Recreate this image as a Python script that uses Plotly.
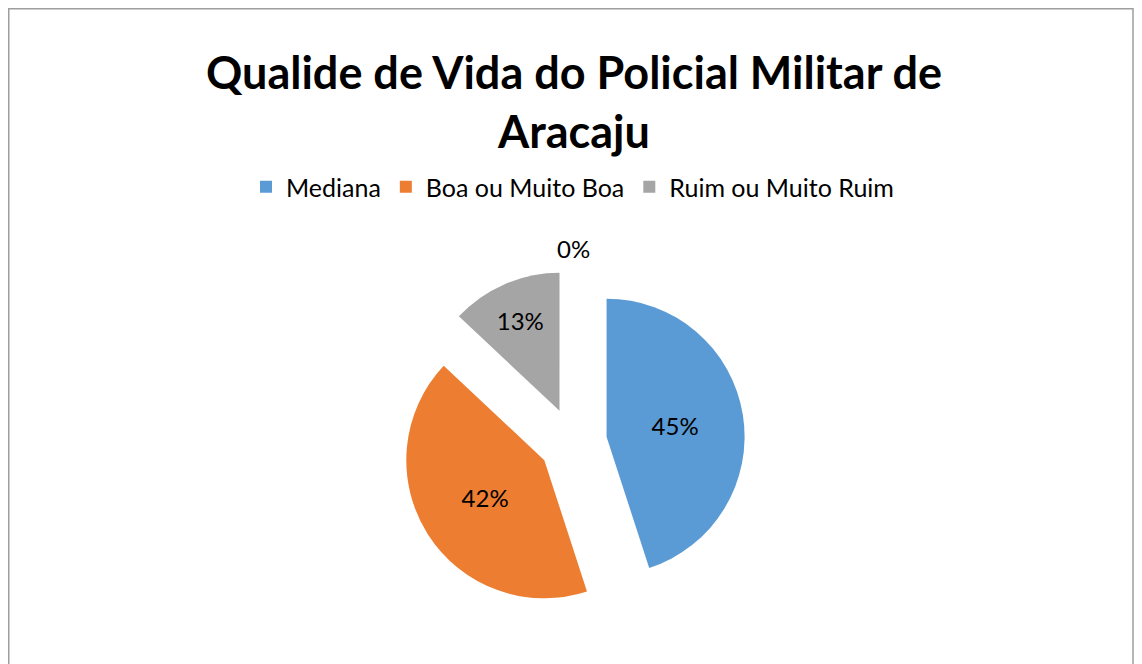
import plotly.graph_objects as go

categories = ["Mediana", "Boa ou Muito Boa", "Ruim ou Muito Ruim"]
values = [45, 42, 13]
colors = ["#5B9BD5", "#ED7D31", "#A5A5A5"]
extra_label = "0%"  # fourth (empty) category shown by the original

OFF = 8  # page body margin
W, H = 1142 - OFF, 664 - OFF
FONT = "Lato"


def px(x):
    return (x - OFF) / W


def py(y):
    return 1 - (y - OFF) / H


fig = go.Figure()
fig.add_trace(go.Pie(
    labels=categories,
    values=values,
    marker=dict(colors=colors, line=dict(width=0)),
    sort=False,
    direction="clockwise",
    rotation=0,
    pull=[0.246, 0.246, 0.246],
    texttemplate="%{percent:.0%}",
    textposition="inside",
    insidetextorientation="horizontal",
    textfont=dict(family=FONT, size=24, color="#000000"),
    domain=dict(x=[px(401), px(745)], y=[py(614), py(270)]),
    hoverinfo="label+percent",
))

fig.update_layout(
    width=W, height=H,
    margin=dict(l=0, r=0, t=0, b=0),
    paper_bgcolor="white",
    plot_bgcolor="white",
    font=dict(family=FONT, color="#000000"),
    title=dict(
        text="<b>Qualide de Vida do Policial Militar de<br>Aracaju</b>",
        x=px(574), xanchor="center",
        y=py(89), yanchor="middle",
        font=dict(family=FONT, size=45, color="#000000"),
    ),
    legend=dict(
        orientation="h",
        x=px(572.5), xanchor="center",
        y=py(187), yanchor="middle",
        font=dict(family=FONT, size=25, color="#000000"),
        itemwidth=30,
        traceorder="normal",
    ),
    showlegend=True,
    shapes=[dict(
        type="rect", xref="paper", yref="paper",
        x0=px(8.75), x1=px(1133), y0=-0.05, y1=py(8.75),
        line=dict(color="#9E9E9E", width=1.5), fillcolor="rgba(0,0,0,0)",
    )],
    annotations=[dict(
        text=extra_label, xref="paper", yref="paper",
        x=px(573), y=py(248), showarrow=False,
        font=dict(family=FONT, size=24, color="#000000"),
    )],
)

fig.write_html("out.html")
